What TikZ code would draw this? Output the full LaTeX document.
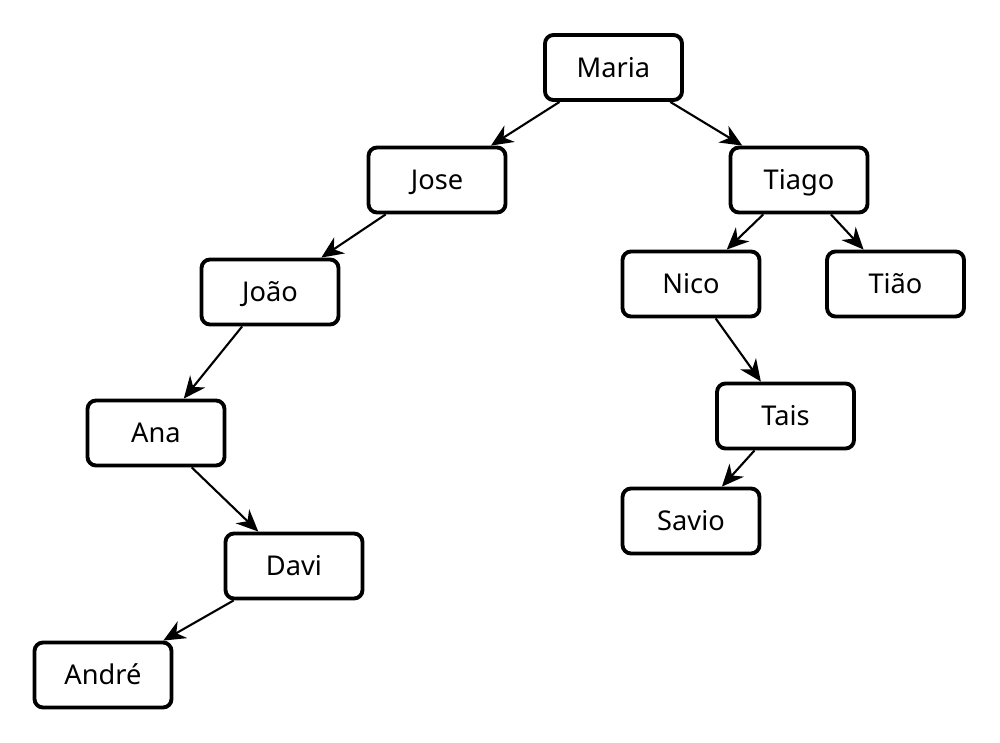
\documentclass[tikz,border=0pt]{standalone}
\usepackage{fontspec}
\setmainfont{Noto Sans}
\usetikzlibrary{arrows.meta}
\tikzset{
  person/.style={draw, line width=2.2pt, rounded corners=0.17cm, minimum width=2.74cm, minimum height=1.3cm, inner sep=0pt, text height=11pt, text depth=0pt, font=\fontsize{15.5}{18}\selectfont, fill=white},
  link/.style={line width=1.2pt, -{Stealth[length=12.5pt, width=11pt, inset=4pt]}}
}
\begin{document}
\begin{tikzpicture}[x=0.02cm, y=-0.02cm]
\useasboundingbox (0,0) rectangle (1000,743);
\node[person] (maria) at (613.5,67.5) {Maria};
\node[person] (jose) at (437,180) {Jose};
\node[person] (tiago) at (799,180) {Tiago};
\node[person] (joao) at (270,292) {João};
\node[person] (nico) at (691,284) {Nico};
\node[person] (tiao) at (895.5,284) {Tião};
\node[person] (ana) at (156,433) {Ana};
\node[person] (tais) at (785.5,416) {Tais};
\node[person] (savio) at (691,521) {Savio};
\node[person] (davi) at (294,566) {Davi};
\node[person] (andre) at (103,675) {André};
\draw[link] (maria) -- (jose);
\draw[link] (maria) -- (tiago);
\draw[link] (jose) -- (joao);
\draw[link] (tiago) -- (nico);
\draw[link] (tiago) -- (tiao);
\draw[link] (joao) -- (ana);
\draw[link] (nico) -- (tais);
\draw[link] (tais) -- (savio);
\draw[link] (ana) -- (davi);
\draw[link] (davi) -- (andre);
\end{tikzpicture}
\end{document}
